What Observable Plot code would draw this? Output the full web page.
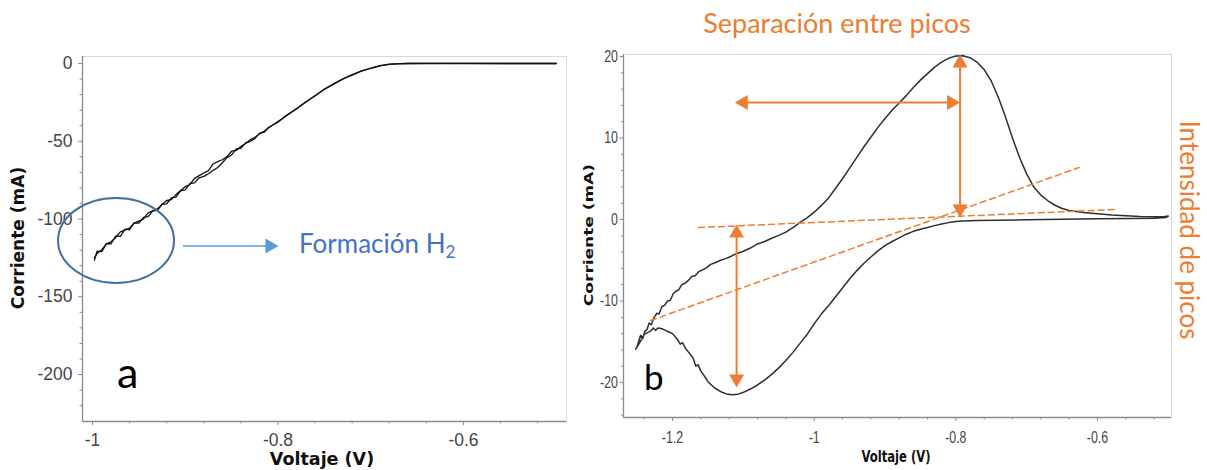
<!DOCTYPE html>
<html>
<head>
<meta charset="utf-8">
<script src="https://cdn.jsdelivr.net/npm/d3@7"></script>
<script src="https://cdn.jsdelivr.net/npm/@observablehq/plot@0.6"></script>
<style>
  html, body { margin: 0; padding: 0; background: #fff; }
  #wrap { position: relative; width: 1207px; height: 470px; overflow: hidden; background: #fff; }
  #wrap > svg { position: absolute; top: 0; }
</style>
</head>
<body>
<div id="wrap"></div>
<script>
// ---------------- DATA ----------------
// Panel a: linear sweep, two scans [voltage V, current mA]
const lsvForward = [
  [-0.500,0],[-0.550,0],[-0.600,0.1],[-0.640,0],[-0.660,0],[-0.670,-0.1],[-0.680,-0.4],[-0.690,-1.4],
  [-0.700,-2.9],[-0.710,-4.9],[-0.720,-7.2],[-0.730,-10.0],[-0.740,-13.1],[-0.750,-16.7],[-0.760,-20.6],
  [-0.770,-24.9],[-0.780,-28.9],[-0.790,-33.2],[-0.800,-37.3],[-0.810,-41.3],[-0.815,-43.6],[-0.820,-45.1],
  [-0.825,-47.6],[-0.830,-49.0],[-0.835,-51.6],[-0.840,-53.3],[-0.845,-55.9],[-0.850,-56.4],[-0.855,-59.8],
  [-0.860,-61.9],[-0.865,-63.1],[-0.870,-64.6],[-0.875,-68.9],[-0.880,-70.4],[-0.885,-72.1],[-0.890,-73.9],
  [-0.895,-77.8],[-0.900,-79.2],[-0.905,-81.6],[-0.910,-84.3],[-0.915,-87.5],[-0.920,-88.1],[-0.925,-90.6],
  [-0.930,-93.5],[-0.935,-94.7],[-0.940,-96.0],[-0.945,-99.9],[-0.950,-101.4],[-0.955,-102.6],[-0.960,-105.8],
  [-0.965,-107.2],[-0.970,-108.3],[-0.975,-111.9],[-0.980,-114.6],[-0.985,-116.0],[-0.990,-119.7],
  [-0.995,-122.1],[-0.998,-125.0]
];
const lsvReverse = [
  [-0.500,0],[-0.550,0],[-0.600,0],[-0.640,0.1],[-0.660,0],[-0.670,-0.2],[-0.680,-0.6],[-0.690,-1.5],
  [-0.700,-3.1],[-0.710,-4.7],[-0.720,-7.5],[-0.730,-9.8],[-0.740,-13.3],[-0.750,-16.4],[-0.760,-20.9],
  [-0.770,-24.6],[-0.780,-29.3],[-0.790,-33.0],[-0.800,-37.8],[-0.810,-41.0],[-0.815,-44.2],[-0.820,-44.9],
  [-0.825,-48.3],[-0.830,-50.2],[-0.835,-51.0],[-0.840,-54.6],[-0.845,-54.9],[-0.850,-58.8],[-0.855,-60.5],
  [-0.860,-63.8],[-0.865,-66.9],[-0.870,-68.7],[-0.875,-70.9],[-0.880,-72.6],[-0.885,-73.5],[-0.890,-76.8],
  [-0.895,-77.2],[-0.900,-81.3],[-0.905,-81.9],[-0.910,-85.9],[-0.915,-86.4],[-0.920,-90.2],[-0.925,-90.5],
  [-0.930,-94.4],[-0.935,-94.8],[-0.940,-98.5],[-0.945,-98.9],[-0.950,-102.6],[-0.955,-102.4],[-0.960,-106.9],
  [-0.965,-106.5],[-0.970,-111.2],[-0.975,-110.9],[-0.980,-115.9],[-0.985,-115.8],[-0.990,-121.0],
  [-0.995,-120.6],[-0.998,-126.5]
];
const xMajorA = [-1, -0.8, -0.6];
const xMinorA = [-0.96,-0.92,-0.88,-0.84,-0.76,-0.72,-0.68,-0.64,-0.56,-0.52];
const yMajorA = [0, -50, -100, -150, -200];
const yMinorA = [-10,-20,-30,-40,-60,-70,-80,-90,-110,-120,-130,-140,-160,-170,-180,-190,-210,-220];

// Panel b: cyclic voltammogram [voltage V, current mA]
const cvForward = [
  [-1.250,-15.6],[-1.248,-15.0],[-1.245,-14.2],[-1.242,-14.6],[-1.239,-13.7],[-1.236,-13.5],[-1.233,-12.7],
  [-1.230,-12.9],[-1.226,-12.0],[-1.222,-11.5],[-1.219,-11.6],[-1.215,-10.7],[-1.211,-10.5],[-1.207,-10.0],
  [-1.203,-9.9],[-1.199,-9.1],[-1.195,-8.8],[-1.191,-8.6],[-1.187,-8.0],[-1.182,-7.8],[-1.178,-7.5],
  [-1.173,-7.0],[-1.168,-6.9],[-1.163,-6.4],[-1.158,-6.2],[-1.152,-5.9],[-1.146,-5.5],[-1.140,-5.3],
  [-1.132,-5.0],[-1.125,-4.8],[-1.117,-4.5],[-1.110,-4.2],[-1.100,-3.9],[-1.090,-3.5],[-1.080,-3.0],
  [-1.070,-2.7],[-1.060,-2.3],[-1.050,-1.95],[-1.040,-1.55],[-1.030,-1.0],[-1.020,-0.35],[-1.010,0.2],
  [-1.000,0.9],[-0.990,1.7],[-0.980,2.6],[-0.970,3.8],[-0.960,5.0],[-0.950,6.3],[-0.940,7.6],[-0.930,8.9],
  [-0.920,10.1],[-0.910,11.3],[-0.900,12.4],[-0.890,13.4],[-0.880,14.3],[-0.870,15.2],[-0.860,16.2],
  [-0.850,17.1],[-0.840,17.9],[-0.830,18.7],[-0.820,19.3],[-0.810,19.8],[-0.800,20.05],[-0.790,20.1],
  [-0.780,19.85],[-0.770,19.3],[-0.760,18.4],[-0.750,17.0],[-0.740,15.0],[-0.730,12.6],[-0.720,10.0],
  [-0.710,7.6],[-0.700,5.6],[-0.690,4.0],[-0.680,3.0],[-0.670,2.3],[-0.660,1.75],[-0.650,1.35],[-0.640,1.1],
  [-0.620,0.85],[-0.600,0.7],[-0.580,0.55],[-0.560,0.45],[-0.540,0.38],[-0.520,0.35],[-0.505,0.38],[-0.500,0.42]
];
const cvReverse = [
  [-0.503,0.25],[-0.520,0.15],[-0.550,0.12],[-0.600,0.08],[-0.650,0.02],[-0.700,-0.03],[-0.740,-0.08],
  [-0.770,-0.12],[-0.790,-0.18],[-0.800,-0.25],[-0.810,-0.38],[-0.820,-0.55],[-0.830,-0.75],[-0.840,-0.98],
  [-0.850,-1.2],[-0.860,-1.45],[-0.870,-1.8],[-0.880,-2.25],[-0.890,-2.7],[-0.900,-3.2],[-0.910,-3.85],
  [-0.920,-4.6],[-0.930,-5.4],[-0.940,-6.3],[-0.950,-7.3],[-0.960,-8.4],[-0.970,-9.5],[-0.980,-10.6],
  [-0.990,-11.6],[-1.000,-12.8],[-1.010,-14.1],[-1.020,-15.2],[-1.030,-16.3],[-1.040,-17.3],[-1.050,-18.2],
  [-1.060,-19.0],[-1.070,-19.7],[-1.080,-20.3],[-1.090,-20.8],[-1.100,-21.2],[-1.108,-21.45],[-1.115,-21.5],
  [-1.122,-21.45],[-1.130,-21.2],[-1.140,-20.7],[-1.145,-20.3],[-1.150,-19.9],[-1.155,-19.2],[-1.160,-18.6],
  [-1.164,-17.8],[-1.167,-18.0],[-1.171,-17.0],[-1.176,-16.4],[-1.181,-15.9],[-1.186,-15.1],[-1.189,-15.3],
  [-1.194,-14.6],[-1.200,-14.0],[-1.205,-13.8],[-1.210,-13.6],[-1.215,-13.4],[-1.220,-13.3],[-1.224,-13.6],
  [-1.227,-13.3],[-1.231,-13.7],[-1.236,-13.9],[-1.240,-14.1],[-1.243,-14.6],[-1.247,-15.2],[-1.252,-15.9]
];
const xMajorB = [-1.2, -1, -0.8, -0.6];
const xMinorB = [-1.24,-1.16,-1.12,-1.08,-1.04,-0.96,-0.92,-0.88,-0.84,-0.76,-0.72,-0.68,-0.64,-0.56,-0.52];
const yMajorB = [20, 10, 0, -10, -20];
const yMinorB = [18,16,14,12,8,6,4,2,-2,-4,-6,-8,-12,-14,-16,-18,-22,-24];

// Annotations (data coordinates)
const sepArrow = [[-1.112, 14.36], [-0.794, 14.36]];
const oxArrow = [[-0.794, 20.25], [-0.794, 0.25]];
const redArrow = [[-1.1095, -0.6], [-1.1095, -20.6]];
const baseline1 = [[-1.1633, -0.98], [-0.574, 1.23]];
const baseline2 = [[-1.231, -12.39], [-0.626, 6.38]];
const h2Arrow = [[-0.9019, -117.3], [-0.7995, -117.3]];
const h2Ellipse = {cx: -0.9741, cy: -114.1, rx: 0.0625, ry: 27.3};

// ---------------- HELPERS ----------------
const ORANGE = "#ed7d31", BLUE = "#5b9bd5", AXIS = "#8c8c8c", TICKTXT = "#454545";
function head(pt, dir, fill, side) {
  const r = Math.sqrt(Math.sqrt(3) / 4 * side * side / Math.PI);
  const off = side / Math.sqrt(3);
  const cfg = {right: [90, -off, 0], left: [-90, off, 0], up: [0, 0, off], down: [180, 0, -off]}[dir];
  return Plot.dot([pt], {x: d => d[0], y: d => d[1], symbol: "triangle", r,
    rotate: cfg[0], dx: cfg[1], dy: cfg[2], fill, stroke: "none"});
}
function seg(pts, opts) {
  return Plot.arrow([pts], {x1: d => d[0][0], y1: d => d[0][1], x2: d => d[1][0], y2: d => d[1][1],
    headLength: 0, ...opts});
}
const fmt = d => String(d);

// ---------------- PANEL A ----------------
const xDomA = [-1.0108, -0.4889], yDomA = [-230.2, 4.5];
const plotA = Plot.plot({
  width: 575, height: 470,
  marginLeft: 82, marginRight: 9, marginTop: 56, marginBottom: 49,
  style: {fontFamily: "'Liberation Sans', Arial, sans-serif", fontSize: "17.5px", background: "transparent", overflow: "visible"},
  x: {domain: xDomA, label: null},
  y: {domain: yDomA, label: null},
  marks: [
    Plot.frame({stroke: "#d9d9d9"}),
    Plot.axisX({ticks: xMinorA, tickSize: 2.5, tickFormat: () => "", stroke: AXIS, label: null}),
    Plot.axisX({ticks: xMajorA, tickSize: 4, tickPadding: 8, tickFormat: fmt, stroke: AXIS, color: TICKTXT, label: null}),
    Plot.axisY({ticks: yMinorA, tickSize: 2.5, tickFormat: () => "", stroke: AXIS, label: null}),
    Plot.axisY({ticks: yMajorA, tickSize: 4, tickPadding: 6, tickFormat: fmt, stroke: AXIS, color: TICKTXT, label: null}),
    Plot.ruleX([xDomA[0]], {stroke: AXIS, strokeWidth: 1.3}),
    Plot.ruleY([yDomA[0]], {stroke: AXIS, strokeWidth: 1.3}),
    Plot.line(lsvForward, {x: d => d[0], y: d => d[1], stroke: "#111", strokeWidth: 1.3}),
    Plot.line(lsvReverse, {x: d => d[0], y: d => d[1], stroke: "#111", strokeWidth: 1.3}),
    seg(h2Arrow, {stroke: BLUE, strokeWidth: 1.5, insetEnd: 6}),
    head(h2Arrow[1], "right", BLUE, 15)
  ]
});
plotA.style.left = "0px";
{
  const sx = plotA.scale("x"), sy = plotA.scale("y");
  const cx = sx.apply(h2Ellipse.cx), cy = sy.apply(h2Ellipse.cy);
  d3.select(plotA).append("ellipse")
    .attr("cx", cx).attr("cy", cy)
    .attr("rx", sx.apply(h2Ellipse.cx + h2Ellipse.rx) - cx)
    .attr("ry", cy - sy.apply(h2Ellipse.cy + h2Ellipse.ry))
    .attr("fill", "none").attr("stroke", "#41719c").attr("stroke-width", 2);
}

// ---------------- PANEL B ----------------
const xDomB = [-1.2692, -0.4955], yDomB = [-24.29, 20.245];
const plotB = Plot.plot({
  width: 632, height: 470,
  marginLeft: 48, marginRight: 36, marginTop: 54, marginBottom: 53,
  style: {fontFamily: "'Liberation Sans', Arial, sans-serif", fontSize: "16.5px", background: "transparent", overflow: "visible"},
  x: {domain: xDomB, label: null},
  y: {domain: yDomB, label: null},
  marks: [
    Plot.frame({stroke: "#d9d9d9"}),
    Plot.axisX({ticks: xMinorB, tickSize: 2.5, tickFormat: () => "", stroke: AXIS, label: null}),
    Plot.axisX({ticks: xMajorB, tickSize: 4, tickPadding: 10, tickFormat: fmt, stroke: AXIS, color: TICKTXT, label: null}),
    Plot.axisY({ticks: yMinorB, tickSize: 2, tickFormat: () => "", stroke: AXIS, label: null}),
    Plot.axisY({ticks: yMajorB, tickSize: 3.5, tickPadding: 2, tickFormat: fmt, stroke: AXIS, color: TICKTXT, label: null}),
    Plot.ruleX([xDomB[0]], {stroke: AXIS, strokeWidth: 1.3}),
    Plot.ruleY([yDomB[0]], {stroke: AXIS, strokeWidth: 1.3}),
    Plot.line(cvForward.concat(cvReverse), {x: d => d[0], y: d => d[1], stroke: "#2e2e2e", strokeWidth: 1.5}),
    Plot.line(baseline1, {x: d => d[0], y: d => d[1], stroke: ORANGE, strokeWidth: 1.5, strokeDasharray: "6,4"}),
    Plot.line(baseline2, {x: d => d[0], y: d => d[1], stroke: ORANGE, strokeWidth: 1.5, strokeDasharray: "6,4"}),
    seg(sepArrow, {stroke: ORANGE, strokeWidth: 2, insetStart: 6, insetEnd: 6}),
    seg(oxArrow, {stroke: ORANGE, strokeWidth: 2, insetStart: 6, insetEnd: 6}),
    seg(redArrow, {stroke: ORANGE, strokeWidth: 2, insetStart: 6, insetEnd: 6}),
    head(sepArrow[0], "left", ORANGE, 15),
    head(sepArrow[1], "right", ORANGE, 15),
    head(oxArrow[0], "up", ORANGE, 15),
    head(oxArrow[1], "down", ORANGE, 15),
    head(redArrow[0], "up", ORANGE, 15),
    head(redArrow[1], "down", ORANGE, 15)
  ]
});
plotB.style.left = "575px";
// the source panel b is horizontally compressed: squeeze its tick labels the same way
d3.select(plotB).selectAll('[aria-label$="tick label"] text').each(function () {
  const t = this.getAttribute("transform");
  if (t) {
    this.setAttribute("transform", t + " scale(0.75,1)");
  } else {
    const x = +this.getAttribute("x") || 0, y = +this.getAttribute("y") || 0;
    this.setAttribute("x", 0); this.setAttribute("y", 0);
    this.setAttribute("transform", `translate(${x},${y}) scale(0.75,1)`);
  }
});

// ---------------- TEXT OVERLAY ----------------
const wrap = document.getElementById("wrap");
wrap.appendChild(plotA);
wrap.appendChild(plotB);
const ov = d3.select(wrap).append("svg")
  .attr("width", 1207).attr("height", 470)
  .style("left", "0px").style("pointer-events", "none");
const bold = "'DejaVu Sans', Verdana, sans-serif";
// axis titles, panel a
ov.append("text").attr("transform", "translate(24,238) rotate(-90)")
  .attr("text-anchor", "middle").attr("font-family", bold).attr("font-weight", "bold")
  .attr("font-size", 17).attr("fill", "#111").text("Corriente (mA)");
ov.append("text").attr("x", 322).attr("y", 465)
  .attr("text-anchor", "middle").attr("font-family", bold).attr("font-weight", "bold")
  .attr("font-size", 17.5).attr("fill", "#111").text("Voltaje (V)");
// axis titles, panel b (horizontally compressed as in the source image)
ov.append("text").attr("transform", "translate(593,235) scale(0.75,1) rotate(-90)")
  .attr("text-anchor", "middle").attr("font-family", bold).attr("font-weight", "bold")
  .attr("font-size", 17).attr("fill", "#111").text("Corriente (mA)");
ov.append("text").attr("transform", "translate(896,462) scale(0.75,1)")
  .attr("text-anchor", "middle").attr("font-family", bold).attr("font-weight", "bold")
  .attr("font-size", 15.5).attr("fill", "#111").text("Voltaje (V)");
// annotations
const ann = "Lato, 'Open Sans', sans-serif";
const f = ov.append("text").attr("x", 299).attr("y", 253)
  .attr("font-family", ann).attr("font-size", 26).attr("fill", "#4472c4");
f.append("tspan").text("Formación H");
f.append("tspan").attr("font-size", 17).attr("dy", 5).text("2");
ov.append("text").attr("x", 117).attr("y", 388)
  .attr("font-family", ann).attr("font-size", 43).attr("fill", "#000").text("a");
ov.append("text").attr("x", 644).attr("y", 390)
  .attr("font-family", ann).attr("font-size", 35).attr("fill", "#000").text("b");
ov.append("text").attr("x", 837).attr("y", 33).attr("text-anchor", "middle")
  .attr("font-family", ann).attr("font-size", 27).attr("fill", ORANGE).text("Separación entre picos");
ov.append("text").attr("transform", "translate(1180,230) rotate(90)").attr("text-anchor", "middle")
  .attr("font-family", ann).attr("font-size", 26).attr("fill", ORANGE).text("Intensidad de picos");
</script>
</body>
</html>
